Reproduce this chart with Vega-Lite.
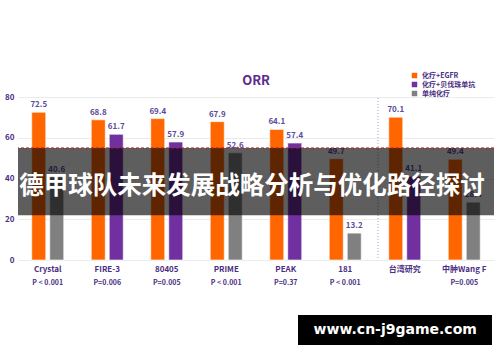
{
  "$schema": "https://vega.github.io/schema/vega-lite/v6.json",
  "width": 476,
  "height": 163,
  "autosize": {"type": "none"},
  "padding": {"left": 18, "top": 97, "right": 6, "bottom": 102},
  "background": "white",
  "title": {"text": "ORR", "fontSize": 13, "color": "#5B2C8F", "font": "Noto Sans CJK SC", "fontWeight": "bold", "offset": -16},
  "config": {"view": {"stroke": null}, "font": "Noto Sans CJK SC"},
  "datasets": {
    "bars": [
      {"study": "Crystal", "series": "化疗+EGFR", "slot": "A", "value": 72.5},
      {"study": "Crystal", "series": "单纯化疗", "slot": "B", "value": 40.6},
      {"study": "FIRE-3", "series": "化疗+EGFR", "slot": "A", "value": 68.8},
      {"study": "FIRE-3", "series": "化疗+贝伐珠单抗", "slot": "B", "value": 61.7},
      {"study": "80405", "series": "化疗+EGFR", "slot": "A", "value": 69.4},
      {"study": "80405", "series": "化疗+贝伐珠单抗", "slot": "B", "value": 57.9},
      {"study": "PRIME", "series": "化疗+EGFR", "slot": "A", "value": 67.9},
      {"study": "PRIME", "series": "单纯化疗", "slot": "B", "value": 52.6},
      {"study": "PEAK", "series": "化疗+EGFR", "slot": "A", "value": 64.1},
      {"study": "PEAK", "series": "化疗+贝伐珠单抗", "slot": "B", "value": 57.4},
      {"study": "181", "series": "化疗+EGFR", "slot": "A", "value": 49.7},
      {"study": "181", "series": "单纯化疗", "slot": "B", "value": 13.2},
      {"study": "台湾研究", "series": "化疗+EGFR", "slot": "A", "value": 70.1},
      {"study": "台湾研究", "series": "化疗+贝伐珠单抗", "slot": "B", "value": 41.1},
      {"study": "中肿Wang F", "series": "化疗+EGFR", "slot": "A", "value": 49.4},
      {"study": "中肿Wang F", "series": "单纯化疗", "slot": "B", "value": 28.4}
    ],
    "cats": [
      {"study": "Crystal", "p": "P < 0.001"},
      {"study": "FIRE-3", "p": "P=0.006"},
      {"study": "80405", "p": "P=0.005"},
      {"study": "PRIME", "p": "P  < 0.001"},
      {"study": "PEAK", "p": "P=0.37"},
      {"study": "181", "p": "P  < 0.001"},
      {"study": "中肿Wang F", "p": "P=0.005"}
    ]
  },
  "layer": [
    {
      "data": {"name": "bars"},
      "mark": {"type": "bar", "stroke": "white", "strokeWidth": 0.6},
      "encoding": {
        "x": {"field": "study", "type": "nominal", "sort": ["Crystal", "FIRE-3", "80405", "PRIME", "PEAK", "181", "台湾研究", "中肿Wang F"], "scale": {"paddingInner": 0, "paddingOuter": 0},
          "axis": {"title": null, "labelAngle": 0, "labelColor": "#4B2E83", "labelFontSize": 8, "labelFontWeight": "bold", "labelPadding": 5, "ticks": false, "domain": false}},
        "xOffset": {"field": "slot", "type": "nominal", "scale": {"paddingInner": 0.222, "paddingOuter": 0.764}},
        "y": {"field": "value", "type": "quantitative", "scale": {"domain": [0, 80]},
          "axis": {"title": null, "values": [0, 10, 20, 30, 40, 50, 60, 70, 80], "labelColor": "#4B2E83", "labelFontSize": 8, "labelFontWeight": "bold", "labelPadding": 4, "ticks": false, "domain": false, "gridColor": "#EBEBEB"}},
        "color": {"field": "series", "type": "nominal",
          "scale": {"domain": ["化疗+EGFR", "化疗+贝伐珠单抗", "单纯化疗"], "range": ["#FF6600", "#7030A0", "#808080"]},
          "legend": {"title": null, "orient": "none", "legendX": 393, "legendY": -25, "symbolType": "square", "symbolSize": 30, "symbolStrokeWidth": 0, "labelFontSize": 7, "labelColor": "#4B2E83", "labelFontWeight": "bold", "rowPadding": 1, "labelOffset": 4}}
      }
    },
    {
      "data": {"name": "bars"},
      "mark": {"type": "text", "baseline": "bottom", "dy": -3, "fontSize": 8, "fontWeight": "bold", "color": "#5E4A9C"},
      "encoding": {
        "x": {"field": "study", "type": "nominal", "sort": ["Crystal", "FIRE-3", "80405", "PRIME", "PEAK", "181", "台湾研究", "中肿Wang F"]},
        "xOffset": {"field": "slot", "type": "nominal"},
        "y": {"field": "value", "type": "quantitative"},
        "text": {"field": "value", "type": "quantitative", "format": ".1f"}
      }
    },
    {
      "data": {"name": "cats"},
      "mark": {"type": "text", "fontSize": 7, "fontWeight": "bold", "color": "#4B2E83"},
      "encoding": {
        "x": {"field": "study", "type": "nominal", "sort": ["Crystal", "FIRE-3", "80405", "PRIME", "PEAK", "181", "台湾研究", "中肿Wang F"]},
        "y": {"datum": -11.3},
        "text": {"field": "p"}
      }
    },
    {
      "data": {"values": [{}]},
      "mark": {"type": "rule", "color": "#9A9AC8", "strokeDash": [1, 2], "strokeWidth": 1},
      "encoding": {
        "x": {"datum": "台湾研究", "bandPosition": 0.05},
        "y": {"datum": 1},
        "y2": {"datum": 80}
      }
    },
    {
      "data": {"values": [{}]},
      "mark": {"type": "rect", "color": "black", "opacity": 0.63},
      "encoding": {
        "y": {"datum": 22},
        "y2": {"datum": 55}
      }
    },
    {
      "data": {"values": [{}]},
      "mark": {"type": "rule", "color": "#B22222", "strokeDash": [3, 2], "strokeWidth": 1},
      "encoding": {
        "y": {"datum": 55}
      }
    },
    {
      "data": {"values": [{"t": "德甲球队未来发展战略分析与优化路径探讨"}]},
      "mark": {"type": "text", "fontSize": 24.5, "fontWeight": "bold", "color": "white", "font": "Noto Sans CJK SC", "dx": -4},
      "encoding": {
        "y": {"datum": 35.8},
        "text": {"field": "t"}
      }
    },
    {
      "data": {"values": [{}]},
      "mark": {"type": "rect", "color": "black"},
      "encoding": {
        "x": {"datum": "PEAK", "bandPosition": 0.706},
        "x2": {"datum": "中肿Wang F", "bandPosition": 0.966},
        "y": {"datum": -27},
        "y2": {"datum": -41.7}
      }
    },
    {
      "data": {"values": [{"t": "www.cn-j9game.com"}]},
      "mark": {"type": "text", "fontSize": 14, "fontWeight": "bold", "color": "white", "font": "DejaVu Sans"},
      "encoding": {
        "x": {"datum": "台湾研究", "bandPosition": 0.34},
        "y": {"datum": -34.3},
        "text": {"field": "t"}
      }
    }
  ]
}
